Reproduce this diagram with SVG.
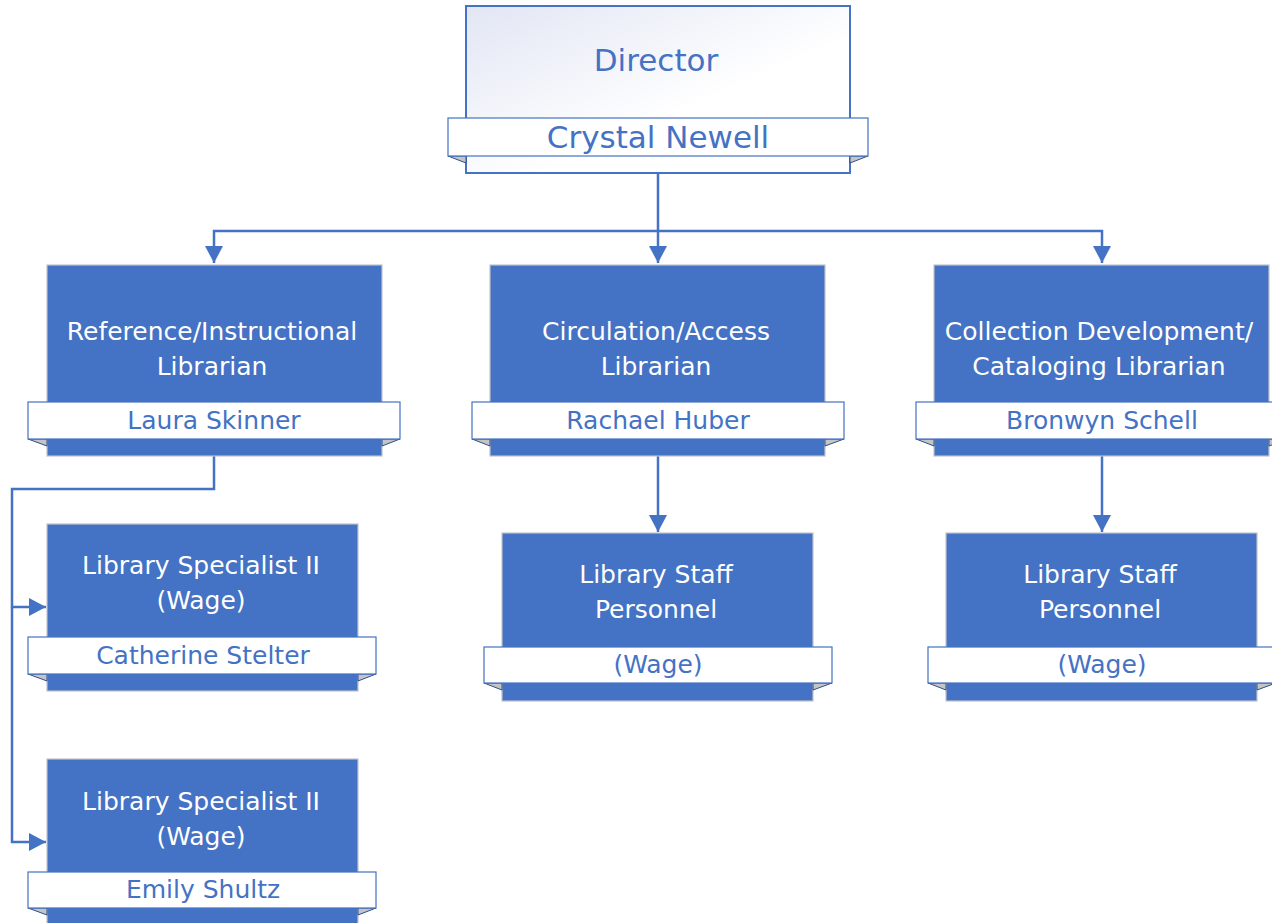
<svg xmlns="http://www.w3.org/2000/svg" width="1272" height="923" viewBox="0 0 1272 923">
<defs>
<linearGradient id="dirGrad" x1="0" y1="0" x2="1" y2="1">
<stop offset="0" stop-color="#e2e6f4"/>
<stop offset="0.6" stop-color="#ffffff"/>
<stop offset="1" stop-color="#ffffff"/>
</linearGradient>
<marker id="arr" markerUnits="userSpaceOnUse" markerWidth="20" markerHeight="20" viewBox="0 0 20 20" refX="18" refY="10" orient="auto">
<path d="M1,1 L18,10 L1,19 Z" fill="#4472c4"/>
</marker>
</defs>
<style>
.box{fill:#4472c4;stroke:#c0c4cc;stroke-width:1.2}
.dir{fill:url(#dirGrad);stroke:#4472c4;stroke-width:2}
.band{fill:#ffffff;stroke:#4472c4;stroke-width:1.2}
.fold{fill:#c4c4c4;stroke:#2f4f8f;stroke-width:1}
.t{font-family:"DejaVu Sans",Verdana,sans-serif;font-size:25px;fill:#ffffff;text-anchor:middle}
.n{font-family:"DejaVu Sans",Verdana,sans-serif;font-size:25px;fill:#4472c4;text-anchor:middle}
.big{font-family:"DejaVu Sans",Verdana,sans-serif;font-size:31px;fill:#4472c4;text-anchor:middle}
.c{fill:none;stroke:#4472c4;stroke-width:2.5}
</style>
<g id="connectors">
<path class="c" d="M658,173 V231 H214 V263" marker-end="url(#arr)"/>
<path class="c" d="M658,231 V263" marker-end="url(#arr)"/>
<path class="c" d="M658,231 H1102 V263" marker-end="url(#arr)"/>
<path class="c" d="M214,456 V489 H12 V607 H46" marker-end="url(#arr)"/>
<path class="c" d="M12,607 V842 H46" marker-end="url(#arr)"/>
<path class="c" d="M658,456 V532" marker-end="url(#arr)"/>
<path class="c" d="M1102,456 V532" marker-end="url(#arr)"/>
</g>
<g id="director">
<rect class="dir" x="466" y="6" width="384" height="167"/>
<polygon class="fold" points="448,156 466,156 466,163"/>
<polygon class="fold" points="868,156 850,156 850,163"/>
<rect class="band" x="448" y="118" width="420" height="38"/>
<text class="big" x="656" y="71">Director</text>
<text class="big" x="658" y="148">Crystal Newell</text>
</g>
<g id="ref-librarian">
<rect class="box" x="47" y="265" width="335" height="191"/>
<polygon class="fold" points="28,439 47,439 47,446"/>
<polygon class="fold" points="400,439 382,439 382,446"/>
<rect class="band" x="28" y="402" width="372" height="37"/>
<text class="t" x="212" y="340">Reference/Instructional</text>
<text class="t" x="212" y="375">Librarian</text>
<text class="n" x="214" y="429">Laura Skinner</text>
</g>
<g id="circ-librarian">
<rect class="box" x="490" y="265" width="335" height="191"/>
<polygon class="fold" points="472,439 490,439 490,446"/>
<polygon class="fold" points="844,439 825,439 825,446"/>
<rect class="band" x="472" y="402" width="372" height="37"/>
<text class="t" x="656" y="340">Circulation/Access</text>
<text class="t" x="656" y="375">Librarian</text>
<text class="n" x="658" y="429">Rachael Huber</text>
</g>
<g id="coll-librarian">
<rect class="box" x="934" y="265" width="335" height="191"/>
<polygon class="fold" points="916,439 934,439 934,446"/>
<polygon class="fold" points="1288,439 1269,439 1269,446"/>
<rect class="band" x="916" y="402" width="372" height="37"/>
<text class="t" x="1099" y="340">Collection Development/</text>
<text class="t" x="1099" y="375">Cataloging Librarian</text>
<text class="n" x="1102" y="429">Bronwyn Schell</text>
</g>
<g id="specialist-1">
<rect class="box" x="47" y="524" width="311" height="167"/>
<polygon class="fold" points="28,674 47,674 47,681"/>
<polygon class="fold" points="376,674 358,674 358,681"/>
<rect class="band" x="28" y="637" width="348" height="37"/>
<text class="t" x="201" y="574">Library Specialist II</text>
<text class="t" x="201" y="609">(Wage)</text>
<text class="n" x="203" y="664">Catherine Stelter</text>
</g>
<g id="specialist-2">
<rect class="box" x="47" y="759" width="311" height="170"/>
<polygon class="fold" points="28,908 47,908 47,915"/>
<polygon class="fold" points="376,908 358,908 358,915"/>
<rect class="band" x="28" y="872" width="348" height="36"/>
<text class="t" x="201" y="810">Library Specialist II</text>
<text class="t" x="201" y="845">(Wage)</text>
<text class="n" x="203" y="898">Emily Shultz</text>
</g>
<g id="staff-circ">
<rect class="box" x="502" y="533" width="311" height="168"/>
<polygon class="fold" points="484,683 502,683 502,690"/>
<polygon class="fold" points="832,683 813,683 813,690"/>
<rect class="band" x="484" y="647" width="348" height="36"/>
<text class="t" x="656" y="583">Library Staff</text>
<text class="t" x="656" y="618">Personnel</text>
<text class="n" x="658" y="673">(Wage)</text>
</g>
<g id="staff-coll">
<rect class="box" x="946" y="533" width="311" height="168"/>
<polygon class="fold" points="928,683 946,683 946,690"/>
<polygon class="fold" points="1276,683 1257,683 1257,690"/>
<rect class="band" x="928" y="647" width="348" height="36"/>
<text class="t" x="1100" y="583">Library Staff</text>
<text class="t" x="1100" y="618">Personnel</text>
<text class="n" x="1102" y="673">(Wage)</text>
</g>
</svg>
